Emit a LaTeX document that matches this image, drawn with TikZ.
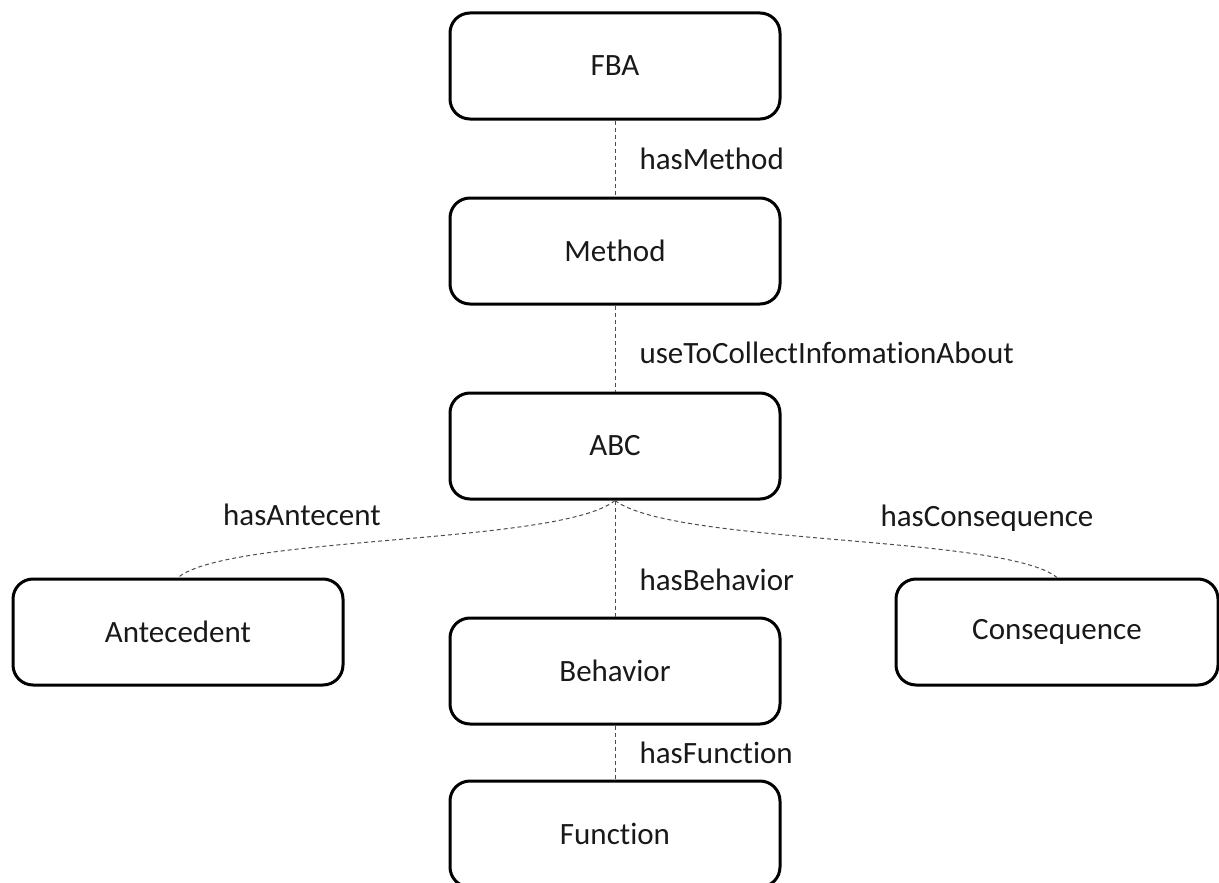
\documentclass[tikz,border=0pt]{standalone}
\usepackage{fontspec}
\setmainfont{Carlito}[Ligatures={NoCommon}]
\begin{document}
\begin{tikzpicture}[x=1pt,y=-1pt,
  box/.style={draw=black, line width=3pt, rounded corners=20pt, minimum width=330pt, minimum height=106pt, inner sep=0pt, font=\fontsize{31}{37}\selectfont, text=black!90},
  conn/.style={draw=black!70, line width=1pt, dash pattern=on 4pt off 3pt},
  lab/.style={font=\fontsize{31}{37}\selectfont, text=black!90, inner sep=0pt}]
\useasboundingbox (0,0) rectangle (1219,883);
\clip (0,0) rectangle (1219,883);
\node[box] (fba) at (615,66) {FBA};
\node[box] (method) at (615,251) {Method};
\node[box] (abc) at (615,446) {ABC};
\node[box] (ante) at (178,632) {Antecedent};
\node[box] (beh) at (615,671) {Behavior};
\node[box, minimum width=322pt] (cons) at (1057,632) {Consequence};
\node[box] (fun) at (615,834) {Function};
\draw[conn] (fba.south) -- node[lab, anchor=west, xshift=24pt, pos=0.5] {hasMethod} (method.north);
\draw[conn] (method.south) -- node[lab, anchor=west, xshift=24pt, pos=0.55] {useToCollectInfomationAbout} (abc.north);
\draw[conn] (abc.south) -- node[lab, anchor=west, xshift=24pt, pos=0.68] {hasBehavior} (beh.north);
\draw[conn] (beh.south) -- node[lab, anchor=west, xshift=24pt, pos=0.5] {hasFunction} (fun.north);
\draw[conn] (abc.south) .. controls (560,545) and (230,535) .. (ante.north);
\draw[conn] (abc.south) .. controls (674,545) and (1005,535) .. (cons.north);
\node[lab] (lante) at (302,515) {hasAntecent};
\node[lab] (lcons) at (987,518) {hasConsequence};
\end{tikzpicture}
\end{document}
